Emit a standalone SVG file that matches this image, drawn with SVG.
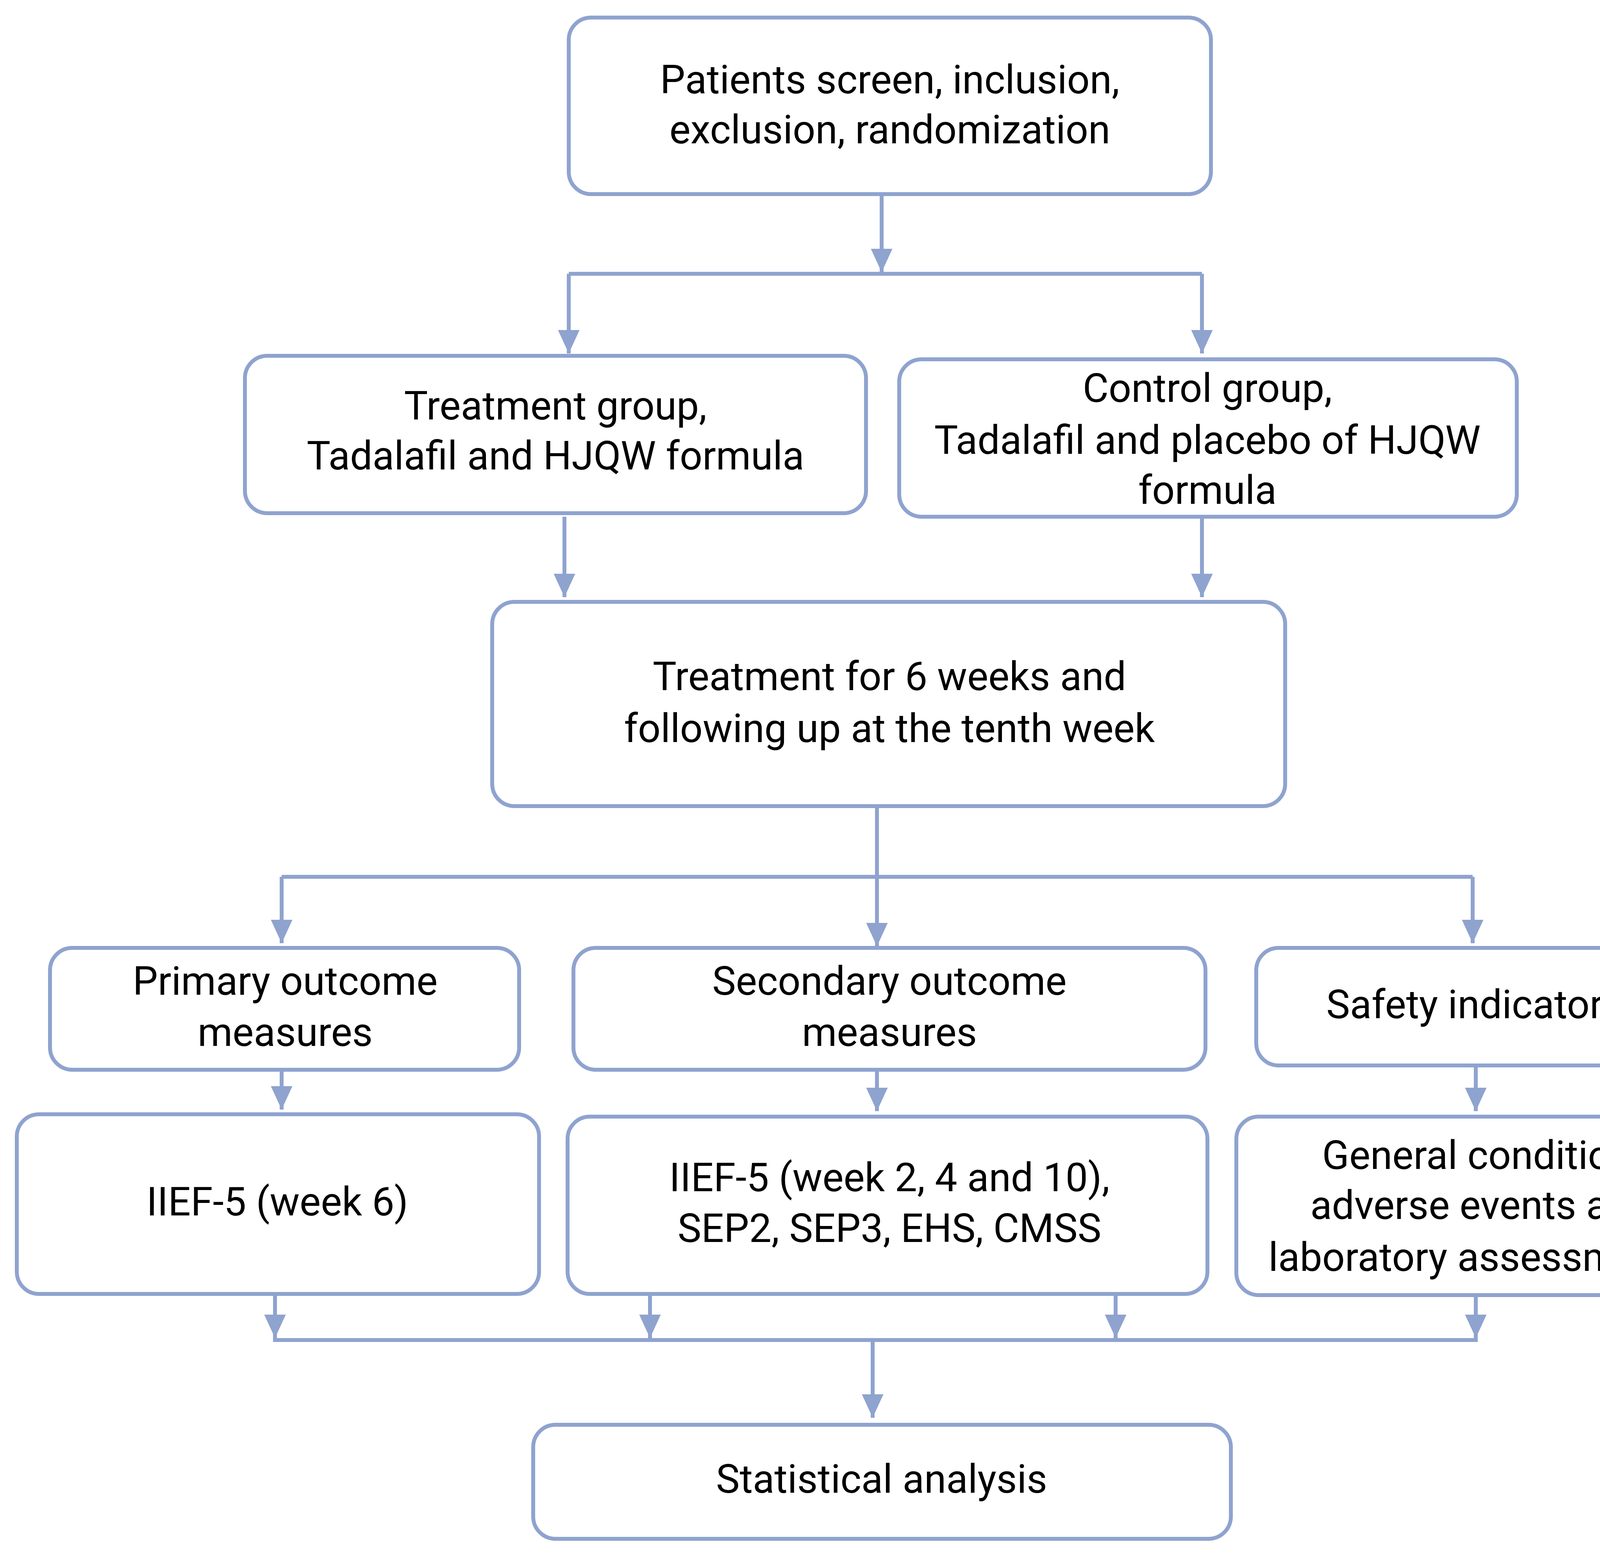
<svg xmlns="http://www.w3.org/2000/svg" width="4451" height="3984" viewBox="0 0 4451 3984">
<style>
.b{fill:#fff;stroke:#8fa3cf;stroke-width:10}
.t{font-family:Roboto,"Liberation Sans",sans-serif;font-size:102px;fill:#000;text-anchor:middle;dominant-baseline:central}
.c line{stroke:#8fa3cf;stroke-width:10}
.a{marker-end:url(#ah)}
</style>
<defs>
<marker id="ah" markerUnits="userSpaceOnUse" markerWidth="60" markerHeight="60" viewBox="0 0 50 46" refX="50" refY="23" orient="auto">
<polygon points="0,0 50,23 0,46" fill="#8fa3cf"/>
</marker>
</defs>
<rect width="4451" height="3984" fill="#fff"/>
<g class="c" id="connectors">
<line class="a" x1="2257" y1="497" x2="2257" y2="697"/>
<line x1="1456" y1="701" x2="3077" y2="701"/>
<line class="a" x1="1456" y1="701" x2="1456" y2="905"/>
<line class="a" x1="3077" y1="701" x2="3077" y2="905"/>
<line class="a" x1="1445" y1="1323" x2="1445" y2="1529"/>
<line class="a" x1="3077" y1="1323" x2="3077" y2="1529"/>
<line class="a" x1="2245" y1="2064" x2="2245" y2="2423"/>
<line x1="721" y1="2245" x2="3770" y2="2245"/>
<line class="a" x1="721" y1="2245" x2="721" y2="2415"/>
<line class="a" x1="3770" y1="2245" x2="3770" y2="2415"/>
<line class="a" x1="721" y1="2739" x2="721" y2="2841"/>
<line class="a" x1="2245" y1="2739" x2="2245" y2="2845"/>
<line class="a" x1="3778" y1="2728" x2="3778" y2="2845"/>
<line class="a" x1="704" y1="3313" x2="704" y2="3426"/>
<line class="a" x1="1664" y1="3313" x2="1664" y2="3426"/>
<line class="a" x1="2856" y1="3313" x2="2856" y2="3426"/>
<line class="a" x1="3778" y1="3316" x2="3778" y2="3426"/>
<line x1="699" y1="3431" x2="3783" y2="3431"/>
<line class="a" x1="2234" y1="3431" x2="2234" y2="3630"/>
</g>
<g id="n1"><rect class="b" x="1456" y="45" width="1644" height="452" rx="57"/><text class="t" x="2278" y="204">Patients screen, inclusion,</text><text class="t" x="2278" y="332">exclusion, randomization</text></g>
<g id="n2"><rect class="b" x="627" y="911" width="1590" height="403" rx="57"/><text class="t" x="1422" y="1039">Treatment group,</text><text class="t" x="1422" y="1167">Tadalafil and HJQW formula</text></g>
<g id="n3"><rect class="b" x="2302" y="920" width="1581" height="403" rx="57"/><text class="t" x="3091" y="994">Control group,</text><text class="t" x="3091" y="1127">Tadalafil and placebo of HJQW</text><text class="t" x="3091" y="1255">formula</text></g>
<g id="n4"><rect class="b" x="1260" y="1541" width="2030" height="523" rx="57"/><text class="t" x="2277" y="1732">Treatment for 6 weeks and</text><text class="t" x="2277" y="1865">following up at the tenth week</text></g>
<g id="n5"><rect class="b" x="128" y="2427" width="1201" height="312" rx="57"/><text class="t" x="730" y="2512">Primary outcome</text><text class="t" x="730" y="2643">measures</text></g>
<g id="n6"><rect class="b" x="1468" y="2427" width="1618" height="312" rx="57"/><text class="t" x="2277" y="2512">Secondary outcome</text><text class="t" x="2277" y="2643">measures</text></g>
<g id="n7"><rect class="b" x="3216" y="2427" width="1116" height="301" rx="57"/><text class="t" x="3776" y="2572">Safety indicators</text></g>
<g id="n8"><rect class="b" x="43" y="2853" width="1337" height="460" rx="57"/><text class="t" x="710" y="3077">IIEF-5 (week 6)</text></g>
<g id="n9"><rect class="b" x="1453" y="2859" width="1638" height="454" rx="57"/><text class="t" x="2277" y="3015">IIEF-5 (week 2, 4 and 10),</text><text class="t" x="2277" y="3145">SEP2, SEP3, EHS, CMSS</text></g>
<g id="n10"><rect class="b" x="3165" y="2859" width="1255" height="457" rx="57"/><text class="t" x="3792" y="2958">General condition,</text><text class="t" x="3792" y="3086">adverse events and</text><text class="t" x="3792" y="3219">laboratory assessments</text></g>
<g id="n11"><rect class="b" x="1365" y="3648" width="1786" height="292" rx="57"/><text class="t" x="2257" y="3787">Statistical analysis</text></g>
</svg>
